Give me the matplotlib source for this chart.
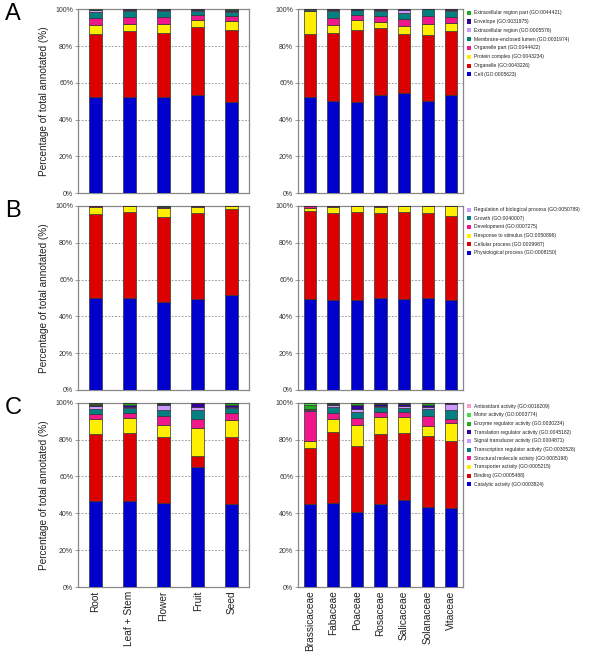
import matplotlib
matplotlib.use("Agg")
import matplotlib.pyplot as plt
from matplotlib.patches import Rectangle
import numpy as np

plt.rcParams['font.family'] = ['Liberation Sans', 'DejaVu Sans']

tissues = ['Root', 'Leaf + Stem', 'Flower', 'Fruit', 'Seed']
families = ['Brassicaceae', 'Fabaceae', 'Poaceae', 'Rosaceae', 'Salicaceae', 'Solanaceae', 'Vitaceae']

# ---- A: cellular component (bottom -> top)
cc_labels = ['Cell (GO:0005623)', 'Organelle (GO:0043226)', 'Protein complex (GO:0043234)',
             'Organelle part (GO:0044422)', 'Membrane-enclosed lumen (GO:0031974)',
             'Extracellular region (GO:0005576)', 'Envelope (GO:0031975)',
             'Extracellular region part (GO:0044421)']
cc_colors = ['#0000CC', '#DD0000', '#FFEE00', '#F0168C', '#008080', '#CC99FF', '#330099', '#22AA22']
cc_tissue = [
    [52.5, 52.0, 52.0, 53.5, 49.6],
    [34.2, 36.2, 35.1, 36.7, 39.1],
    [4.9, 4.0, 4.7, 4.2, 5.1],
    [3.5, 3.4, 4.0, 2.3, 2.4],
    [3.6, 3.5, 3.3, 2.4, 2.3],
    [0.8, 0.5, 0.5, 0.6, 0.5],
    [0.3, 0.3, 0.3, 0.2, 0.5],
    [0.2, 0.1, 0.1, 0.1, 0.5],
]
cc_family = [
    [52.5, 50.0, 49.5, 53.5, 54.7, 50.0, 53.3],
    [34.0, 37.1, 39.4, 36.3, 32.0, 36.0, 34.7],
    [12.6, 4.2, 5.1, 3.1, 4.4, 5.8, 4.7],
    [0.2, 4.0, 2.7, 3.3, 3.6, 4.6, 2.9],
    [0.2, 3.8, 2.8, 2.7, 3.3, 3.6, 3.7],
    [0.4, 0.5, 0.2, 0.8, 1.8, 0.0, 0.5],
    [0.1, 0.3, 0.2, 0.2, 0.2, 0.0, 0.1],
    [0.0, 0.1, 0.1, 0.1, 0.0, 0.0, 0.1],
]

# ---- B: biological process
bp_labels = ['Physiological process (GO:0008150)', 'Cellular process (GO:0009987)',
             'Response to stimulus (GO:0050896)', 'Development (GO:0007275)',
             'Growth (GO:0040007)', 'Regulation of biological process (GO:0050789)']
bp_colors = ['#0000CC', '#DD0000', '#FFEE00', '#F0168C', '#008080', '#CC99FF']
bp_tissue = [
    [49.8, 49.8, 48.0, 49.3, 51.4],
    [45.9, 46.9, 46.0, 46.9, 46.8],
    [3.9, 3.3, 5.1, 3.4, 1.8],
    [0.3, 0.0, 0.1, 0.4, 0.0],
    [0.1, 0.0, 0.8, 0.0, 0.0],
    [0.0, 0.0, 0.0, 0.0, 0.0],
]
bp_family = [
    [49.3, 48.9, 49.1, 49.8, 49.3, 49.8, 48.9],
    [48.0, 47.3, 47.6, 46.4, 47.6, 46.2, 45.7],
    [1.6, 3.1, 3.3, 3.4, 3.1, 4.0, 5.4],
    [1.0, 0.5, 0.0, 0.3, 0.0, 0.0, 0.0],
    [0.0, 0.2, 0.0, 0.1, 0.0, 0.0, 0.0],
    [0.1, 0.0, 0.0, 0.0, 0.0, 0.0, 0.0],
]

# ---- C: molecular function
mf_labels = ['Catalytic activity (GO:0003824)', 'Binding (GO:0005488)',
             'Transporter activity (GO:0005215)', 'Structural molecule activity (GO:0005198)',
             'Transcription regulator activity (GO:0030528)', 'Signal transducer activity (GO:0004871)',
             'Translation regulator activity (GO:0045182)', 'Enzyme regulator activity (GO:0030234)',
             'Motor activity (GO:0003774)', 'Antioxidant activity (GO:0016209)']
mf_colors = ['#0000CC', '#DD0000', '#FFEE00', '#F0168C', '#008080', '#CC99FF',
             '#330099', '#22AA22', '#44DD44', '#FF99CC']
mf_tissue = [
    [46.7, 46.8, 45.6, 65.1, 45.0],
    [36.1, 36.6, 36.0, 5.8, 36.5],
    [8.2, 8.1, 6.1, 15.5, 9.0],
    [3.0, 2.7, 5.1, 4.7, 3.8],
    [2.7, 2.7, 3.2, 4.9, 2.9],
    [1.5, 0.9, 2.9, 1.5, 0.3],
    [0.5, 1.1, 0.2, 2.3, 1.5],
    [0.8, 0.8, 0.6, 0.2, 0.7],
    [0.5, 0.3, 0.3, 0.0, 0.3],
    [0.0, 0.0, 0.0, 0.0, 0.0],
]
mf_family = [
    [45.2, 45.6, 40.7, 45.0, 47.0, 43.2, 42.9],
    [30.0, 38.3, 36.0, 38.2, 36.7, 38.7, 36.5],
    [4.2, 7.2, 11.2, 8.8, 8.5, 5.6, 9.6],
    [16.1, 3.1, 4.0, 2.8, 2.9, 5.4, 2.2],
    [0.3, 3.3, 3.2, 2.8, 2.2, 3.7, 4.7],
    [0.9, 1.2, 1.5, 0.6, 0.9, 0.9, 3.4],
    [0.0, 0.6, 2.1, 1.1, 1.1, 1.2, 0.5],
    [2.3, 0.5, 1.0, 0.5, 0.5, 1.0, 0.2],
    [1.0, 0.2, 0.3, 0.2, 0.2, 0.3, 0.0],
    [0.0, 0.0, 0.0, 0.0, 0.0, 0.0, 0.0],
]

W, H = 600, 656
fig = plt.figure(figsize=(W / 100, H / 100), dpi=100)


def px_axes(x0, y0, x1, y1):
    return fig.add_axes([x0 / W, 1 - y1 / H, (x1 - x0) / W, (y1 - y0) / H])


def draw(ax, cats, values, colors, width, show_x):
    x = np.arange(len(cats))
    bottom = np.zeros(len(cats))
    for vals, col in zip(values, colors):
        v = np.array(vals, dtype=float)
        ax.bar(x, v, width, bottom=bottom, color=col, edgecolor='#333333', linewidth=0.5, zorder=3)
        bottom += v
    ax.set_xlim(-0.5, len(cats) - 0.5)
    ax.set_ylim(0, 100)
    ax.set_yticks([0, 20, 40, 60, 80, 100])
    ax.set_yticklabels(['0%', '20%', '40%', '60%', '80%', '100%'], fontsize=5, color='#333333')
    for g in [20, 40, 60, 80]:
        ax.axhline(g, color='#888888', linestyle=(0, (2, 2)), linewidth=0.6, zorder=1)
    for s in ax.spines.values():
        s.set_color('#888888')
        s.set_linewidth(0.9)
    ax.tick_params(axis='y', length=2, width=0.6, color='#888888', pad=1.5)
    ax.set_xticks(x)
    if show_x:
        ax.set_xticklabels(cats, rotation=90, fontsize=7.3, color='#222222')
        ax.tick_params(axis='x', length=0, pad=2.5)
    else:
        ax.set_xticklabels([])
        ax.tick_params(axis='x', length=0)


def legend(labels, colors, y_first, step):
    for i, (lab, col) in enumerate(zip(labels[::-1], colors[::-1])):
        yc = y_first + i * step
        fig.patches.append(Rectangle(((467) / W, 1 - (yc + 2) / H), 4 / W, 4 / H,
                                     transform=fig.transFigure, facecolor=col,
                                     edgecolor='none', figure=fig))
        fig.text(474 / W, 1 - yc / H, lab, fontsize=3.6, va='center', ha='left', color='#222222')


rows = [
    (9.3, 193.0, 'A', cc_tissue, cc_family, cc_colors, cc_labels, 12.7, 8.8),
    (206.0, 390.0, 'B', bp_tissue, bp_family, bp_colors, bp_labels, 209.7, 8.6),
    (402.7, 587.0, 'C', mf_tissue, mf_family, mf_colors, mf_labels, 406.3, 8.67),
]
for i, (top, bot, letter, vt, vf, cols, labs, ly, ls) in enumerate(rows):
    last = i == 2
    ax1 = px_axes(78, top, 249, bot)
    draw(ax1, tissues, vt, cols, 0.38, last)
    ax2 = px_axes(298, top, 463, bot)
    draw(ax2, families, vf, cols, 0.51, last)
    fig.text(44 / W, 1 - (top + bot) / 2 / H, 'Percentage of total annotated (%)',
             rotation=90, fontsize=7.2, ha='center', va='center', color='#222222')
    fig.text(13 / W, 1 - (top - 6) / H, letter, fontsize=17, ha='center', va='top', color='black')
    legend(labs, cols, ly, ls)

fig.savefig('out.png', dpi=100)
